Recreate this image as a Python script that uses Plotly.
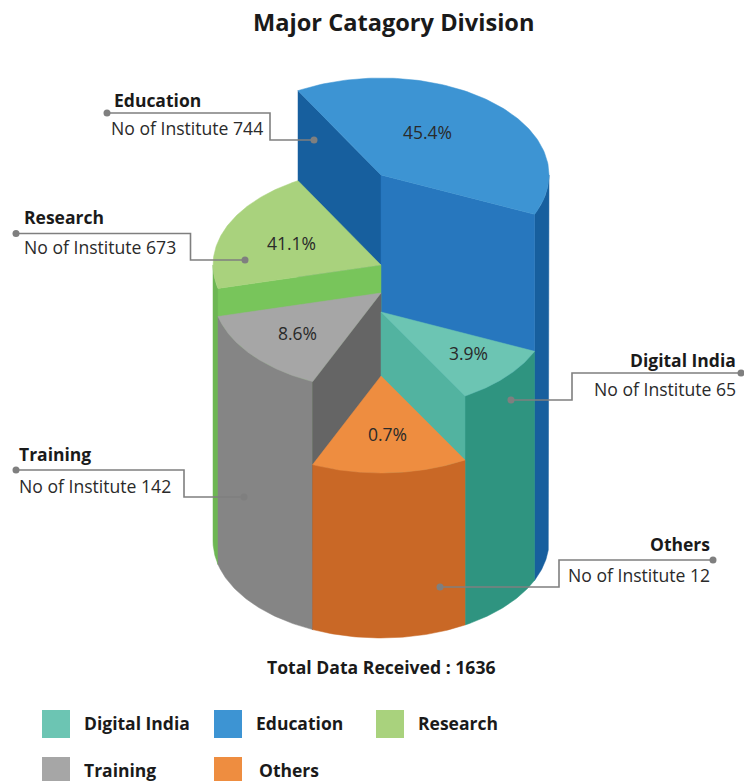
import numpy as np
import plotly.graph_objects as go

# values printed on the chart
categories = ['Digital India', 'Education', 'Research', 'Training', 'Others']
institutes = [65, 744, 673, 142, 12]
percents = [3.9, 45.4, 41.1, 8.6, 0.7]
total = 1636

# slice sweep as drawn (the picture does not follow the percents), degrees,
# and how far down each slice top sits
slice_order = ['Education', 'Digital India', 'Others', 'Training', 'Research']
sweeps = [143.5, 36.1, 54.0, 52.0, 74.4]
drops = [0, 137, 201, 118, 90]

W, H = 744, 781
CX, TOP_Y, BASE_Y = 381, 175, 541
RX, RY = 168, 97
START = 119.6

top_col = {'Digital India': '#6CC5B3', 'Education': '#3D94D3', 'Research': '#A9D27D',
           'Training': '#A6A6A6', 'Others': '#EE8D40'}
side_col = {'Digital India': '#2F9480', 'Education': '#175F9E', 'Research': '#6DB653',
            'Training': '#858585', 'Others': '#C96826'}
# cut walls: (first edge colour, second edge colour), None = faces away
wall_col = {'Digital India': (None, '#52B3A0'), 'Education': ('#175F9E', '#2777BE'),
            'Research': ('#78C55B', None), 'Training': ('#656565', None), 'Others': (None, None)}

# name: title x, text x, anchor, title y, text y, line path, percent label position
callouts = {
    'Education': (112, 109, 'left', 100, 128, [(107, 113), (270, 113), (270, 140), (314, 140)], (427, 132)),
    'Research': (22, 22, 'left', 217, 247, [(16, 233.5), (190.5, 233.5), (190.5, 260), (245, 260)], (291, 243)),
    'Training': (17, 17, 'left', 454, 486, [(16, 470), (184, 470), (184, 497), (244, 497)], (297, 333)),
    'Digital India': (738, 738, 'right', 360, 389, [(741, 373), (572, 373), (572, 400), (511, 400)], (468, 353)),
    'Others': (712, 712, 'right', 544, 575, [(713, 560), (559, 560), (559, 587), (440, 587)], (387, 434)),
}
legend_pos = {'Digital India': (56, 724, 82), 'Education': (228, 724, 254), 'Research': (390, 724, 416),
              'Training': (56, 771, 82), 'Others': (228, 771, 257)}

fig = go.Figure()


def rim(angle, cy):
    a = np.radians(angle)
    return CX + RX * np.cos(a), cy - RY * np.sin(a)


def poly(xs, ys, color):
    fig.add_trace(go.Scatter(x=xs, y=ys, mode='lines', fill='toself', fillcolor=color,
                             line=dict(color=color, width=0.5), hoverinfo='skip', showlegend=False))


def wall(angle, cy, color):
    x, y = rim(angle, cy)
    bx, by = rim(angle, BASE_Y)
    poly([CX, x, bx, CX, CX], [cy, y, by, BASE_Y, cy], color)


angle = START
slices = {}
for name, sweep, drop in zip(slice_order, sweeps, drops):
    slices[name] = (angle, angle - sweep, TOP_Y + drop)
    angle -= sweep

# back to front, each slice: outer wall, cut walls, top
for name in ['Education', 'Research', 'Training', 'Digital India', 'Others']:
    a0, a1, cy = slices[name]
    # only the part of the rim facing the viewer has an outer wall
    lo, hi = max(a1, -180), min(a0, 0)
    if hi > lo:
        t = np.linspace(lo, hi, 60)
        xt, yt = rim(t, cy)
        xb, yb = rim(t[::-1], BASE_Y)
        poly(np.r_[xt, xb, xt[0]], np.r_[yt, yb, yt[0]], side_col[name])
    first, second = wall_col[name]
    if first:
        wall(a0, cy, first)
    if second:
        wall(a1, cy, second)
    t = np.linspace(a0, a1, 120)
    xt, yt = rim(t, cy)
    poly(np.r_[CX, xt, CX], np.r_[cy, yt, cy], top_col[name])

# callout lines and labels
FONT = 'Open Sans'
for name, pct, n in zip(categories, percents, institutes):
    tx, sx, anchor, ty, sy, path, pct_pos = callouts[name]
    xs = [p[0] for p in path]
    ys = [p[1] for p in path]
    fig.add_trace(go.Scatter(x=xs, y=ys, mode='lines', line=dict(color='#7F7F7F', width=1.6),
                             hoverinfo='skip', showlegend=False))
    fig.add_trace(go.Scatter(x=[xs[0], xs[-1]], y=[ys[0], ys[-1]], mode='markers',
                             marker=dict(color='#7F7F7F', size=7), hoverinfo='skip', showlegend=False))
    fig.add_annotation(x=tx, y=ty, text='<b>%s</b>' % name, xanchor=anchor, font=dict(size=17.5, color='#1A1A1A'))
    fig.add_annotation(x=sx, y=sy, text='No of Institute %d' % n, xanchor=anchor, font=dict(size=17.6, color='#2A2A2A'))
    fig.add_annotation(x=pct_pos[0], y=pct_pos[1], text='%.1f%%' % pct, font=dict(size=17.5, color='#2A2A2A'))

# legend drawn by hand, the original has it in two uneven rows
for name in categories:
    mx, my, lx = legend_pos[name]
    fig.add_trace(go.Scatter(x=[mx], y=[my], mode='markers',
                             marker=dict(symbol='square', size=28, color=top_col[name]),
                             hoverinfo='skip', showlegend=False))
    fig.add_annotation(x=lx, y=my - 1, text='<b>%s</b>' % name, xanchor='left', font=dict(size=17.5, color='#1A1A1A'))

fig.add_annotation(x=393, y=22, text='<b>Major Catagory Division</b>', font=dict(size=23.6, color='#1A1A1A'))
fig.add_annotation(x=381.5, y=667, text='<b>Total Data Received : %d</b>' % total, font=dict(size=17.6, color='#1A1A1A'))

fig.update_annotations(xref='x', yref='y', showarrow=False, yanchor='middle')
fig.update_layout(width=W, height=H, margin=dict(l=0, r=0, t=0, b=0), paper_bgcolor='white',
                  plot_bgcolor='white', font=dict(family=FONT), showlegend=False,
                  xaxis=dict(range=[0, W], visible=False, fixedrange=True),
                  yaxis=dict(range=[H, 0], visible=False, fixedrange=True))

fig.write_html("out.html", post_script="document.body.style.margin='0'", config=dict(displayModeBar=False))
